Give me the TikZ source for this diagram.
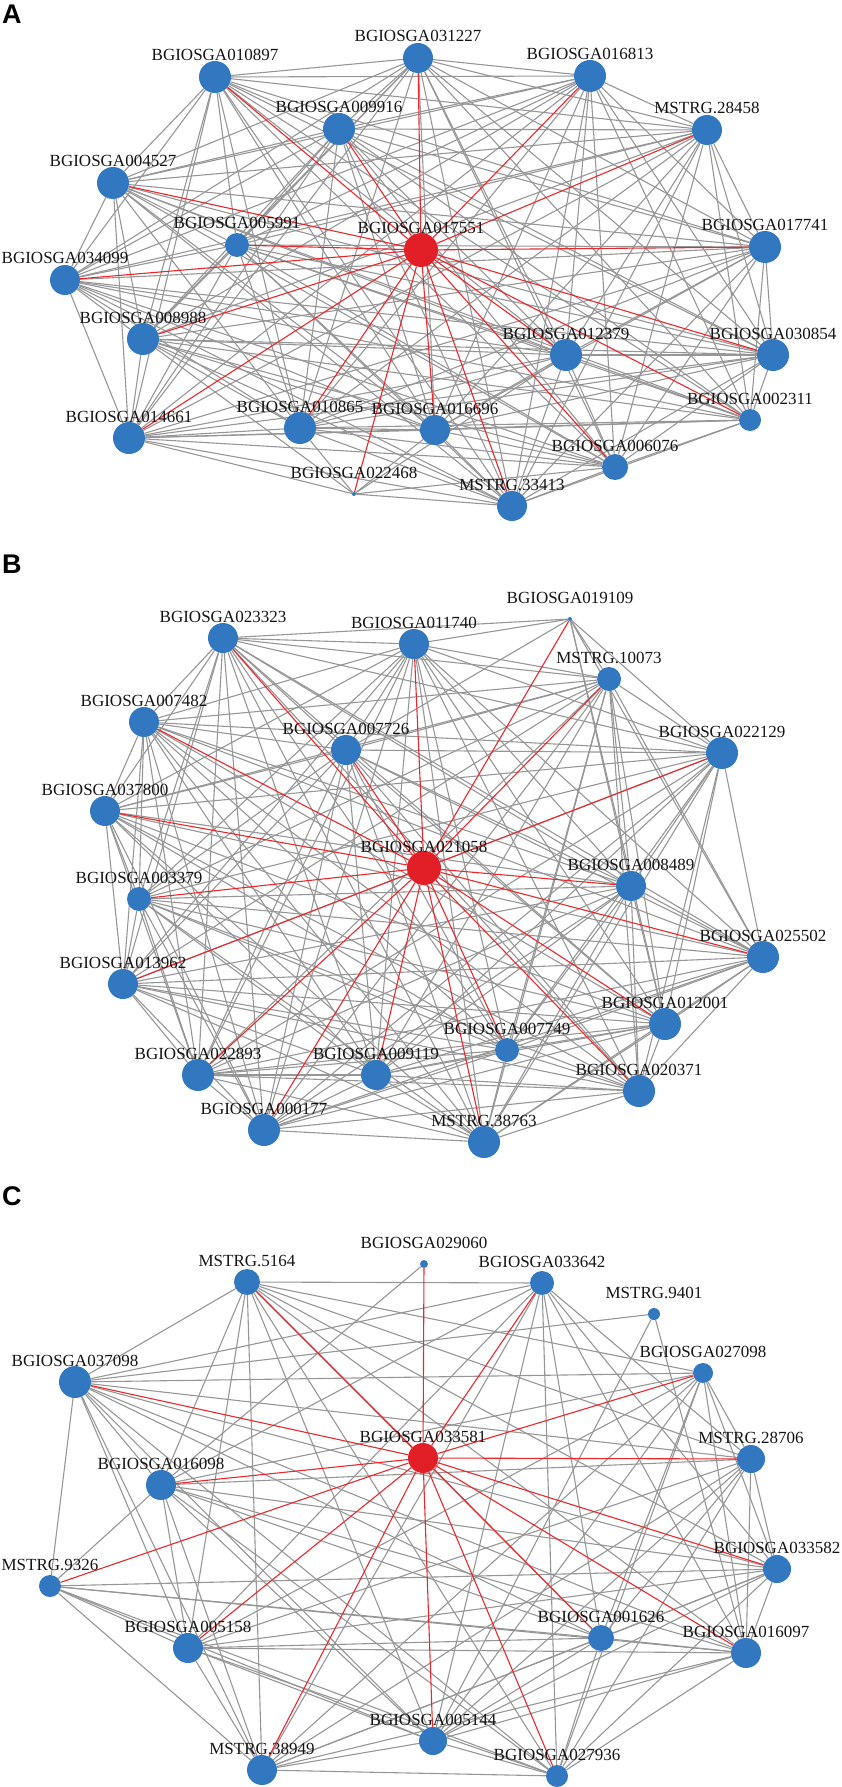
\documentclass[tikz,border=0pt]{standalone}
\usepackage{fontspec}
\setmainfont{Liberation Serif}
\newfontfamily\panelfont{Liberation Sans}
\usetikzlibrary{backgrounds}
\definecolor{nblue}{RGB}{50,120,192}
\definecolor{hubred}{RGB}{226,30,38}
\definecolor{ered}{RGB}{232,40,45}
\definecolor{egray}{RGB}{150,150,150}
\tikzset{
 bnode/.style={circle, fill=nblue, inner sep=0pt, draw=none},
 rnode/.style={circle, fill=hubred, inner sep=0pt, draw=none},
 lbl/.style={anchor=base, inner sep=0pt, font=\fontsize{17}{17}\selectfont, text=black!92},
 gedge/.style={draw=egray, line width=1.1pt},
 redge/.style={draw=ered, line width=1.1pt},
 paneltag/.style={anchor=base west, inner sep=0pt, font=\panelfont\bfseries\fontsize{27}{27}\selectfont}
}
\newcommand\gnode[6][bnode]{\node[#1, minimum size={2*#5pt}] (#2) at (#3,#4) {};
 \node[lbl] (#2l) at ([yshift=16pt]#2.center) {#6};}
\begin{document}
\begin{tikzpicture}[x=1pt,y=-1pt]
\useasboundingbox (0,0) rectangle (841,1787);
% ---------------- Panel A ----------------
\node[paneltag] (tagA) at (2,24) {A};
\gnode{a1}{215}{77}{16}{BGIOSGA010897}
\gnode{a2}{418}{58}{15}{BGIOSGA031227}
\gnode{a3}{590}{76}{16}{BGIOSGA016813}
\gnode{a4}{707}{130}{15}{MSTRG.28458}
\gnode{a5}{339}{129}{16}{BGIOSGA009916}
\gnode{a6}{113}{183}{16}{BGIOSGA004527}
\gnode{a7}{237}{245}{12}{BGIOSGA005991}
\gnode{a8}{765}{247}{16}{BGIOSGA017741}
\gnode{a9}{65}{280}{15}{BGIOSGA034099}
\gnode{a10}{143}{339}{16}{BGIOSGA008988}
\gnode{a11}{566}{355}{16}{BGIOSGA012379}
\gnode{a12}{773}{355}{16}{BGIOSGA030854}
\gnode{a13}{129}{438}{16}{BGIOSGA014661}
\gnode{a14}{300}{428}{16}{BGIOSGA010865}
\gnode{a15}{435}{430}{15}{BGIOSGA016696}
\gnode{a16}{750}{420}{11}{BGIOSGA002311}
\gnode{a17}{615}{467}{13}{BGIOSGA006076}
\gnode{a18}{354}{494}{2}{BGIOSGA022468}
\gnode{a19}{512}{506}{15}{MSTRG.33413}
\gnode[rnode]{a0}{421}{250}{17}{BGIOSGA017551}
% ---------------- Panel B ----------------
\node[paneltag] (tagB) at (2,573) {B};
\gnode{b1}{223}{638}{15}{BGIOSGA023323}
\gnode{b2}{414}{644}{15}{BGIOSGA011740}
\gnode{b3}{570}{619}{2}{BGIOSGA019109}
\gnode{b4}{609}{679}{12}{MSTRG.10073}
\gnode{b5}{144}{722}{15}{BGIOSGA007482}
\gnode{b6}{346}{750}{15}{BGIOSGA007726}
\gnode{b7}{722}{753}{16}{BGIOSGA022129}
\gnode{b8}{105}{811}{15}{BGIOSGA037800}
\gnode{b9}{631}{886}{15}{BGIOSGA008489}
\gnode{b10}{139}{899}{12}{BGIOSGA003379}
\gnode{b11}{763}{957}{16}{BGIOSGA025502}
\gnode{b12}{123}{984}{15}{BGIOSGA013962}
\gnode{b13}{665}{1024}{16}{BGIOSGA012001}
\gnode{b14}{507}{1050}{12}{BGIOSGA007749}
\gnode{b15}{198}{1075}{16}{BGIOSGA022893}
\gnode{b16}{376}{1075}{15}{BGIOSGA009119}
\gnode{b17}{639}{1091}{16}{BGIOSGA020371}
\gnode{b18}{264}{1130}{16}{BGIOSGA000177}
\gnode{b19}{484}{1142}{16}{MSTRG.38763}
\gnode[rnode]{b0}{424}{868}{17}{BGIOSGA021058}
% ---------------- Panel C ----------------
\node[paneltag] (tagC) at (2,1205) {C};
\gnode{c1}{424}{1264}{4}{BGIOSGA029060}
\gnode{c2}{247}{1282}{13}{MSTRG.5164}
\gnode{c3}{542}{1283}{12}{BGIOSGA033642}
\gnode{c4}{654}{1314}{6}{MSTRG.9401}
\gnode{c5}{75}{1382}{16}{BGIOSGA037098}
\gnode{c6}{703}{1373}{10}{BGIOSGA027098}
\gnode{c7}{751}{1459}{14}{MSTRG.28706}
\gnode{c8}{161}{1485}{15}{BGIOSGA016098}
\gnode{c9}{50}{1586}{11}{MSTRG.9326}
\gnode{c10}{777}{1569}{14}{BGIOSGA033582}
\gnode{c11}{188}{1648}{15}{BGIOSGA005158}
\gnode{c12}{601}{1638}{13}{BGIOSGA001626}
\gnode{c13}{746}{1653}{15}{BGIOSGA016097}
\gnode{c14}{433}{1741}{14}{BGIOSGA005144}
\gnode{c15}{262}{1770}{15}{MSTRG.38949}
\gnode{c16}{557}{1776}{11}{BGIOSGA027936}
\gnode[rnode]{c0}{423}{1458}{15}{BGIOSGA033581}
% omitted pairs in C
\expandafter\def\csname om-2-9\endcsname{1}
\expandafter\def\csname om-3-9\endcsname{1}
\expandafter\def\csname om-6-9\endcsname{1}
\expandafter\def\csname om-3-6\endcsname{1}
\expandafter\def\csname om-7-9\endcsname{1}
\begin{pgfonlayer}{background}
 % A gray
 \foreach \i in {1,...,19}{\foreach \j in {1,...,19}{%
   \ifnum\i<\j \ifnum\i=18 \else\ifnum\j=18 \else \draw[gedge] (a\i) -- (a\j);\fi\fi\fi}}
 \foreach \k in {10,13,14,15,19,11,17} \draw[gedge] (a18) -- (a\k);
 % B gray
 \foreach \i in {1,...,19}{\foreach \j in {1,...,19}{%
   \ifnum\i<\j \ifnum\i=3 \else\ifnum\j=3 \else \draw[gedge] (b\i) -- (b\j);\fi\fi\fi}}
 \foreach \k in {1,2,4,6,7,9,11,13} \draw[gedge] (b3) -- (b\k);
 % C gray
 \foreach \i in {2,3,5,6,...,16}{\foreach \j in {2,3,5,6,...,16}{%
   \ifnum\i<\j \expandafter\ifx\csname om-\i-\j\endcsname\relax \draw[gedge] (c\i) -- (c\j);\fi\fi}}
 \draw[gedge] (c1) -- (c8);
 \foreach \k in {5,14,13} \draw[gedge] (c4) -- (c\k);
 % red
 \foreach \k in {1,...,19} \draw[redge] (a0) -- (a\k);
 \foreach \k in {1,...,19} \draw[redge] (b0) -- (b\k);
 \foreach \k in {1,2,3,5,6,...,16} \draw[redge] (c0) -- (c\k);
\end{pgfonlayer}
\end{tikzpicture}
\end{document}
